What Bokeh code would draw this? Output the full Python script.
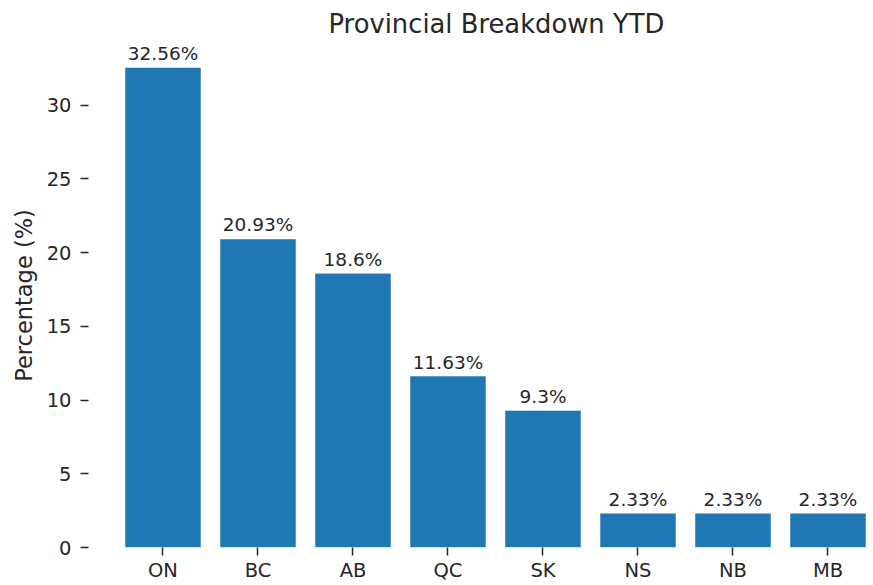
from bokeh.plotting import figure
from bokeh.models import Range1d, FixedTicker, ColumnDataSource, Title
from bokeh.embed import file_html
from bokeh.resources import INLINE
from bokeh.core.properties import value

# ---- data ----
provinces = ["ON", "BC", "AB", "QC", "SK", "NS", "NB", "MB"]
percentages = [32.56, 20.93, 18.6, 11.63, 9.3, 2.33, 2.33, 2.33]
y_ticks = [0, 5, 10, 15, 20, 25, 30]
title_text = "Provincial Breakdown YTD"
y_label = "Percentage (%)"

idx = list(range(len(provinces)))
labels = [f"{v}%" for v in percentages]
src = ColumnDataSource(dict(x=idx, top=percentages, label=labels))

FONT = "DejaVu Sans"
TXT = "#262626"
ymax = max(percentages) * 1.05

p = figure(width=873, height=585, output_backend="svg", toolbar_location=None,
           x_range=Range1d(-0.784, 7.479), y_range=Range1d(0, ymax),
           min_border_left=88, min_border_right=0, min_border_top=43,
           min_border_bottom=38, background_fill_color="white",
           border_fill_color="white")

p.vbar(x="x", top="top", width=0.8, bottom=0, source=src,
       fill_color="#1f77b4", line_color="white", line_alpha=0.5, line_width=1)

p.text(x="x", y="top", text="label", source=src, text_align="center",
       text_baseline="alphabetic", y_offset=-14, text_font=value(FONT),
       text_font_size="18.5px", text_color=TXT)

p.add_layout(Title(text=title_text, align="left", offset=240,
                   vertical_align="top", standoff=6,
                   text_font=FONT, text_font_size="25.8px",
                   text_font_style="normal", text_color=TXT), "above")

for ax in (p.xaxis, p.yaxis):
    ax.axis_line_color = None
    ax.minor_tick_line_color = None
    ax.major_tick_in = 0
    ax.major_tick_out = 8
    ax.major_tick_line_color = TXT
    ax.major_tick_line_width = 1.5
    ax.major_label_text_font = FONT
    ax.major_label_text_font_size = "19.5px"
    ax.major_label_text_color = TXT

p.xaxis.ticker = FixedTicker(ticks=idx)
p.xaxis.major_label_overrides = {i: name for i, name in enumerate(provinces)}
p.xaxis.major_label_standoff = 3

p.yaxis.ticker = FixedTicker(ticks=y_ticks)
p.yaxis.major_label_standoff = 9
p.yaxis.axis_label = y_label
p.yaxis.axis_label_text_font = FONT
p.yaxis.axis_label_text_font_style = "normal"
p.yaxis.axis_label_text_font_size = "22.5px"
p.yaxis.axis_label_text_color = TXT
p.yaxis.axis_label_standoff = 7

p.xgrid.visible = False
p.ygrid.visible = False
p.outline_line_color = None

open("out.html", "w").write(file_html(p, INLINE))
